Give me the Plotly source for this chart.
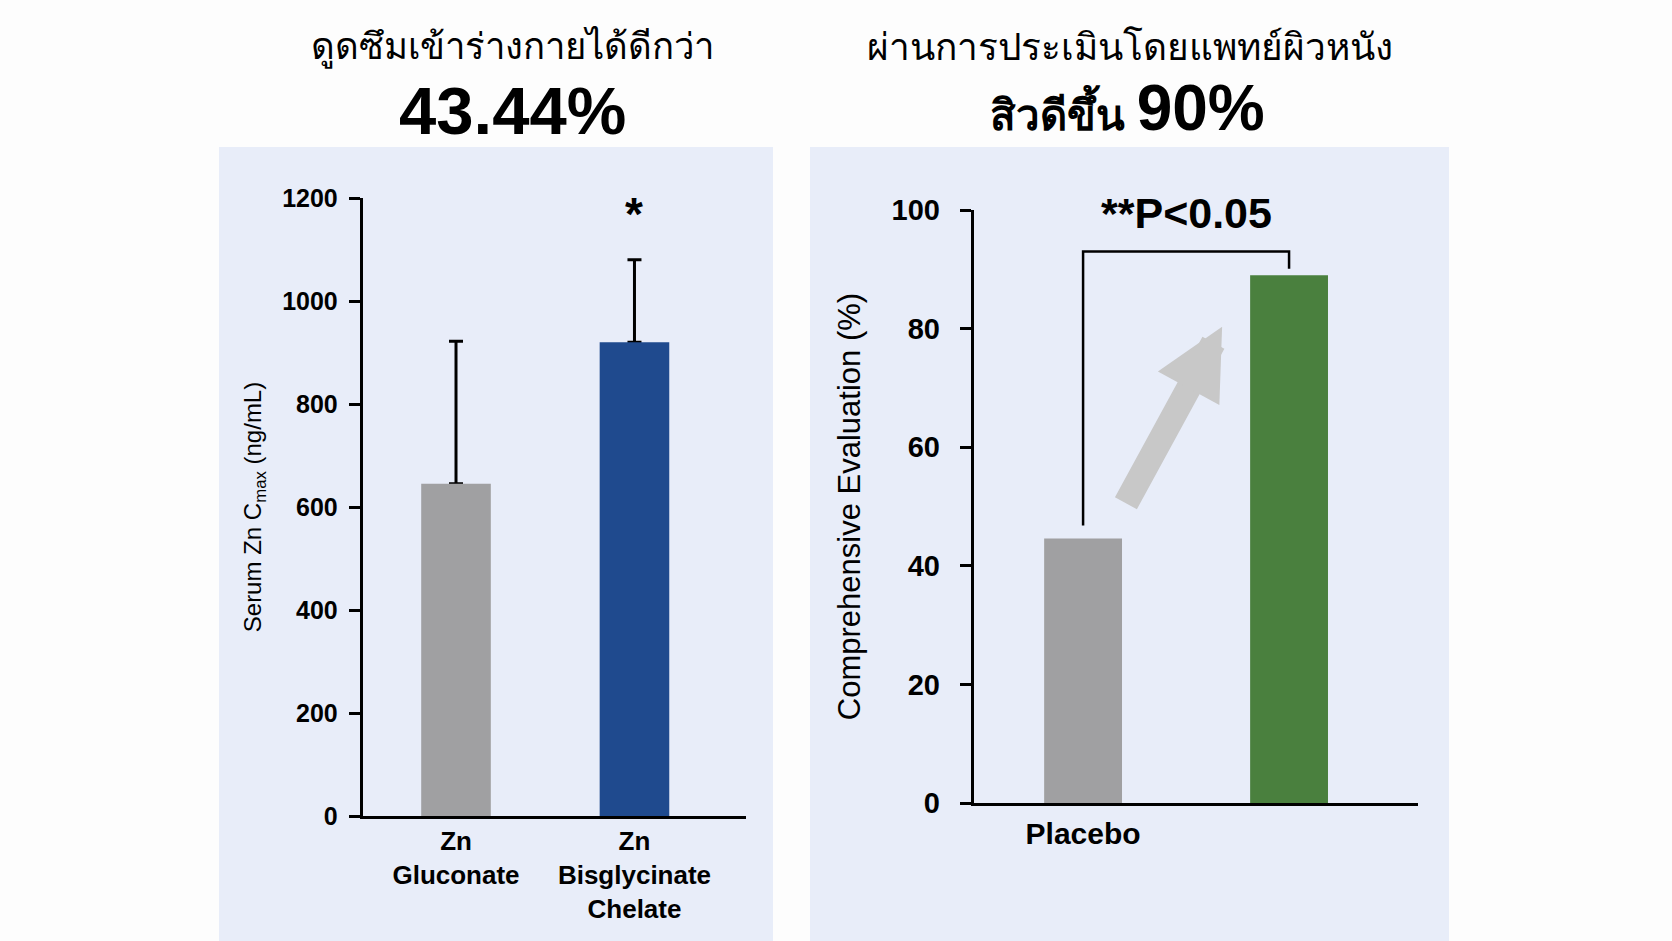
import plotly.graph_objects as go

# ---------------- data ----------------
left_categories = ["Zn<br>Gluconate", "Zn<br>Bisglycinate<br>Chelate"]
left_values = [645, 920]
left_errors = [277, 160]
left_colors = ["#a0a0a2", "#1f4a8e"]
left_ticks = [0, 200, 400, 600, 800, 1000, 1200]

right_categories = ["Placebo", ""]
right_values = [44.6, 89.0]
right_colors = ["#a0a0a2", "#4a803e"]
right_ticks = [0, 20, 40, 60, 80, 100]

left_title = "ดูดซึมเข้าร่างกายได้ดีกว่า"
left_big = "43.44%"
right_title = "ผ่านการประเมินโดยแพทย์ผิวหนัง"
right_big_thai = "สิวดีขึ้น"
right_big_pct = "90%"
sig_left = "*"
sig_right = "**P<0.05"

FONT = "Liberation Sans, Arial, Helvetica, sans-serif"
PANEL = "#e8edf9"

fig = go.Figure()

lx = list(range(len(left_categories)))
rx = list(range(len(right_categories)))

# error bars (drawn first so the coloured bars hide their lower cap)
fig.add_trace(go.Bar(
    x=lx, y=left_values, width=0.39, marker=dict(color="rgba(0,0,0,0)", line=dict(width=0)),
    error_y=dict(type="data", array=left_errors, arrayminus=[0, 0], symmetric=False,
                 color="#000000", thickness=3, width=7),
    xaxis="x", yaxis="y", showlegend=False, hoverinfo="skip"))
fig.add_trace(go.Bar(
    x=lx, y=left_values, width=0.39, marker=dict(color=left_colors, line=dict(width=0)),
    xaxis="x", yaxis="y", showlegend=False, hoverinfo="skip"))

fig.add_trace(go.Bar(
    x=rx, y=right_values, width=0.378, marker=dict(color=right_colors, line=dict(width=0)),
    xaxis="x2", yaxis="y2", showlegend=False, hoverinfo="skip"))

axis_common = dict(showgrid=False, zeroline=False, showline=True, linecolor="#000000",
                   linewidth=2.5, ticks="outside", ticklen=11, tickwidth=2.5,
                   tickcolor="#000000", automargin=False)

fig.update_layout(
    width=1672, height=941, autosize=False,
    barmode="overlay",
    margin=dict(l=0, r=0, t=0, b=0, pad=0, autoexpand=False),
    paper_bgcolor="#fdfdfd",
    plot_bgcolor="rgba(0,0,0,0)",
    font=dict(family=FONT, color="#000000"),
    showlegend=False,
    xaxis=dict(domain=[362.5/1672, 746/1672], range=[-0.524, 1.625], anchor="y",
               tickvals=lx, ticktext=left_categories, ticks="", showline=True,
               linecolor="#000000", linewidth=2.5, showgrid=False, zeroline=False,
               automargin=False, ticklabelstandoff=0,
               tickfont=dict(size=26, weight="bold", family=FONT)),
    yaxis=dict(domain=[(941-816)/941, (941-198)/941], range=[0, 1200], anchor="x",
               tickvals=left_ticks, ticklabelstandoff=6,
               tickfont=dict(size=25, weight="bold", family=FONT),
               title=dict(text="Serum Zn C<sub>max</sub> (ng/mL)",
                          font=dict(size=24, family=FONT), standoff=14),
               **axis_common),
    xaxis2=dict(domain=[973.5/1672, 1418/1672], range=[-0.532, 1.626], anchor="y2",
                tickvals=rx, ticktext=right_categories, ticks="", showline=True,
                linecolor="#000000", linewidth=2.5, showgrid=False, zeroline=False,
                automargin=False, ticklabelstandoff=2,
                tickfont=dict(size=30, weight="bold", family=FONT)),
    yaxis2=dict(domain=[(941-803)/941, (941-210)/941], range=[0, 100], anchor="x2",
                tickvals=right_ticks, ticklabelstandoff=14,
                tickfont=dict(size=29, weight="bold", family=FONT),
                title=dict(text="Comprehensive Evaluation (%)",
                           font=dict(size=31, family=FONT), standoff=22),
                **axis_common),
)

# panel backgrounds
fig.add_shape(type="rect", xref="paper", yref="paper", x0=219/1672, x1=773/1672,
              y0=0, y1=(941-147)/941, fillcolor=PANEL, line=dict(width=0), layer="below")
fig.add_shape(type="rect", xref="paper", yref="paper", x0=810/1672, x1=1449/1672,
              y0=0, y1=(941-147)/941, fillcolor=PANEL, line=dict(width=0), layer="below")

# significance bracket on right chart
fig.add_shape(type="path", xref="x2", yref="y2",
              path=f"M {rx[0]},{right_values[0] + 2.2} L {rx[0]},93 L {rx[1]},93 L {rx[1]},{right_values[1] + 1.1}",
              line=dict(color="#000000", width=2.5))

# arrow
fig.add_annotation(xref="x2", yref="y2", axref="x2", ayref="y2",
                   x=0.675, y=80.3, ax=0.204, ay=50.3, text="", showarrow=True,
                   arrowhead=2, arrowsize=0.56, arrowwidth=25, arrowcolor="#c8c8c8",
                   standoff=0, startstandoff=0)

# significance texts
fig.add_annotation(xref="x", yref="y", x=lx[1], y=1168, text=sig_left, showarrow=False,
                   xanchor="center", yanchor="middle",
                   font=dict(size=46, weight="bold", family=FONT))
fig.add_annotation(xref="x2", yref="y2", x=0.5, y=99.5, text=sig_right, showarrow=False,
                   xanchor="center", yanchor="middle",
                   font=dict(size=43, weight="bold", family=FONT))

# headers
hdr = dict(xref="paper", yref="paper", showarrow=False, xanchor="center", yanchor="middle")
fig.add_annotation(x=512/1672, y=1-45/941, text=left_title,
                   font=dict(size=36.5, weight=500, family="Noto Sans, sans-serif"), **hdr)
fig.add_annotation(x=512/1672, y=1-110/941, text=left_big,
                   font=dict(size=67, weight="bold", family=FONT), **hdr)
fig.add_annotation(x=1130/1672, y=1-45/941, text=right_title,
                   font=dict(size=37, weight=500, family="Noto Sans, sans-serif"), **hdr)
fig.add_annotation(x=1127/1672, y=1-108/941,
                   text=f"{right_big_thai} <span style='font-size:64px'>{right_big_pct}</span>",
                   font=dict(size=42, weight="bold", family=FONT), **hdr)

fig.write_html("out.html", config={"responsive": False, "displayModeBar": False})
